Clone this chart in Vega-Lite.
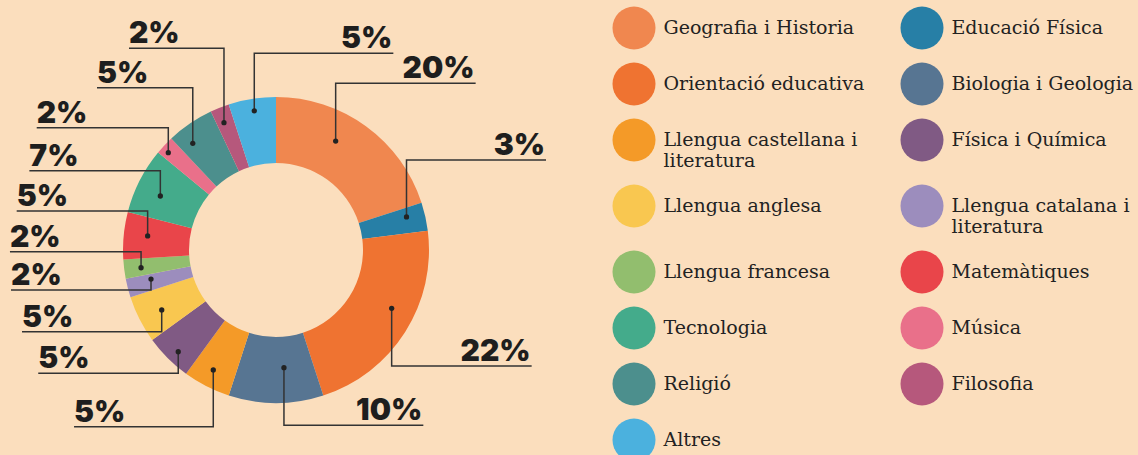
{
  "$schema": "https://vega.github.io/schema/vega-lite/v6.json",
  "width": 552,
  "height": 500,
  "padding": {"left": 0, "top": 0, "right": 586, "bottom": 0},
  "autosize": "none",
  "background": "#fbdebd",
  "config": {"view": {"stroke": null}},
  "datasets": {
    "subjects": [
      {"subject": "Geografia i Historia", "value": 20, "ord": 1},
      {"subject": "Educació Física", "value": 3, "ord": 2},
      {"subject": "Orientació educativa", "value": 22, "ord": 3},
      {"subject": "Biologia i Geologia", "value": 10, "ord": 4},
      {"subject": "Llengua castellana i literatura", "value": 5, "ord": 5},
      {"subject": "Física i Química", "value": 5, "ord": 6},
      {"subject": "Llengua anglesa", "value": 5, "ord": 7},
      {"subject": "Llengua catalana i literatura", "value": 2, "ord": 8},
      {"subject": "Llengua francesa", "value": 2, "ord": 9},
      {"subject": "Matemàtiques", "value": 5, "ord": 10},
      {"subject": "Tecnologia", "value": 7, "ord": 11},
      {"subject": "Música", "value": 2, "ord": 12},
      {"subject": "Religió", "value": 5, "ord": 13},
      {"subject": "Filosofia", "value": 2, "ord": 14},
      {"subject": "Altres", "value": 5, "ord": 15}
    ],
    "callouts": [
      {"subject": "Geografia i Historia", "v": 0, "x": 39.0, "y": 71.2},
      {"subject": "Geografia i Historia", "v": 1, "x": 39.0, "y": 109.0},
      {"subject": "Geografia i Historia", "v": 2, "x": 130.5, "y": 109.0, "side": "R", "label": "20%"},
      {"subject": "Educació Física", "v": 0, "x": 85.3, "y": 21.6},
      {"subject": "Educació Física", "v": 1, "x": 85.3, "y": 58.8},
      {"subject": "Educació Física", "v": 2, "x": 176.5, "y": 58.8, "side": "R", "label": "3%"},
      {"subject": "Orientació educativa", "v": 0, "x": 75.6, "y": -38.1},
      {"subject": "Orientació educativa", "v": 1, "x": 75.6, "y": -75.8},
      {"subject": "Orientació educativa", "v": 2, "x": 167.1, "y": -75.8, "side": "R", "label": "22%"},
      {"subject": "Biologia i Geologia", "v": 0, "x": 5.2, "y": -76.9},
      {"subject": "Biologia i Geologia", "v": 1, "x": 5.2, "y": -114.6},
      {"subject": "Biologia i Geologia", "v": 2, "x": 96.3, "y": -114.6, "side": "R", "label": "10%"},
      {"subject": "Llengua castellana i literatura", "v": 0, "x": -41.0, "y": -78.4},
      {"subject": "Llengua castellana i literatura", "v": 1, "x": -41.0, "y": -115.5},
      {"subject": "Llengua castellana i literatura", "v": 2, "x": -132.0, "y": -115.5, "side": "L", "label": "5%"},
      {"subject": "Física i Química", "v": 0, "x": -63.9, "y": -66.5},
      {"subject": "Física i Química", "v": 1, "x": -63.9, "y": -80.6},
      {"subject": "Física i Química", "v": 2, "x": -155.4, "y": -80.6, "side": "L", "label": "5%"},
      {"subject": "Llengua anglesa", "v": 0, "x": -74.7, "y": -39.2},
      {"subject": "Llengua anglesa", "v": 1, "x": -74.7, "y": -53.4},
      {"subject": "Llengua anglesa", "v": 2, "x": -166.0, "y": -53.4, "side": "L", "label": "5%"},
      {"subject": "Llengua catalana i literatura", "v": 0, "x": -81.7, "y": -19.0},
      {"subject": "Llengua catalana i literatura", "v": 1, "x": -81.7, "y": -26.1},
      {"subject": "Llengua catalana i literatura", "v": 2, "x": -173.2, "y": -26.1, "side": "L", "label": "2%"},
      {"subject": "Llengua francesa", "v": 0, "x": -88.2, "y": -11.6},
      {"subject": "Llengua francesa", "v": 1, "x": -88.2, "y": -1.1},
      {"subject": "Llengua francesa", "v": 2, "x": -173.9, "y": -1.1, "side": "L", "label": "2%"},
      {"subject": "Matemàtiques", "v": 0, "x": -83.9, "y": 9.2},
      {"subject": "Matemàtiques", "v": 1, "x": -83.9, "y": 25.5},
      {"subject": "Matemàtiques", "v": 2, "x": -169.5, "y": 25.5, "side": "L", "label": "5%"},
      {"subject": "Tecnologia", "v": 0, "x": -75.6, "y": 35.3},
      {"subject": "Tecnologia", "v": 1, "x": -75.6, "y": 51.8},
      {"subject": "Tecnologia", "v": 2, "x": -161.2, "y": 51.8, "side": "L", "label": "7%"},
      {"subject": "Música", "v": 0, "x": -70.4, "y": 63.6},
      {"subject": "Música", "v": 1, "x": -70.4, "y": 79.9},
      {"subject": "Música", "v": 2, "x": -156.4, "y": 79.9, "side": "L", "label": "2%"},
      {"subject": "Religió", "v": 0, "x": -54.4, "y": 69.7},
      {"subject": "Religió", "v": 1, "x": -54.4, "y": 106.1},
      {"subject": "Religió", "v": 2, "x": -117.0, "y": 106.1, "side": "L", "label": "5%"},
      {"subject": "Filosofia", "v": 0, "x": -34.0, "y": 83.2},
      {"subject": "Filosofia", "v": 1, "x": -34.0, "y": 131.8},
      {"subject": "Filosofia", "v": 2, "x": -96.1, "y": 131.8, "side": "L", "label": "2%"},
      {"subject": "Altres", "v": 0, "x": -14.2, "y": 91.0},
      {"subject": "Altres", "v": 1, "x": -14.2, "y": 128.6},
      {"subject": "Altres", "v": 2, "x": 76.7, "y": 128.6, "side": "R", "label": "5%"}
    ]
  },
  "layer": [
    {
      "data": {"name": "subjects"},
      "mark": {"type": "arc", "outerRadius": 153, "innerRadius": 87},
      "encoding": {
        "theta": {"field": "value", "type": "quantitative", "stack": true},
        "order": {"field": "ord", "type": "quantitative"},
        "color": {
          "field": "subject",
          "type": "nominal",
          "scale": {
            "domain": ["Geografia i Historia", "Educació Física", "Orientació educativa", "Biologia i Geologia", "Llengua castellana i literatura", "Física i Química", "Llengua anglesa", "Llengua catalana i literatura", "Llengua francesa", "Matemàtiques", "Tecnologia", "Música", "Religió", "Filosofia", "Altres"],
            "range": ["#f0874f", "#277fa6", "#ef7331", "#577592", "#f49a28", "#805a84", "#f9c750", "#9c8dbd", "#92be6e", "#e9454a", "#44ab8b", "#e9708a", "#4c8f8d", "#b6587c", "#4bb1de"]
          },
          "legend": {
            "orient": "none",
            "legendX": 612.5,
            "legendY": 6.5,
            "direction": "horizontal",
            "columns": 2,
            "title": null,
            "padding": 0,
            "symbolType": "circle",
            "symbolSize": 1849,
            "symbolStrokeWidth": 0,
            "symbolOpacity": 1,
            "labelFont": "DejaVu Serif",
            "labelFontSize": 19,
            "labelColor": "#222222",
            "labelOffset": 8,
            "labelLimit": 400,
            "labelBaseline": "middle",
            "rowPadding": 13,
            "columnPadding": 36,
            "labelExpr": "indexof(datum.label, 'i literatura') > 0 ? [replace(datum.label, ' literatura', ''), 'literatura'] : datum.label"
          }
        }
      }
    },
    {
      "data": {"name": "callouts"},
      "mark": {"type": "line", "stroke": "#333333", "strokeWidth": 1.5},
      "encoding": {
        "x": {"field": "x", "type": "quantitative", "scale": {"domain": [-180.4, 180.4], "nice": false, "zero": false}, "axis": null},
        "y": {"field": "y", "type": "quantitative", "scale": {"domain": [-163.4, 163.4], "nice": false, "zero": false}, "axis": null},
        "detail": {"field": "subject", "type": "nominal"},
        "order": {"field": "v", "type": "quantitative"}
      }
    },
    {
      "data": {"name": "callouts"},
      "transform": [{"filter": "datum.v === 0"}],
      "mark": {"type": "point", "filled": true, "color": "#222222", "size": 28, "opacity": 1},
      "encoding": {
        "x": {"field": "x", "type": "quantitative"},
        "y": {"field": "y", "type": "quantitative"}
      }
    },
    {
      "data": {"name": "callouts"},
      "transform": [{"filter": "datum.v === 2 && datum.side === 'R'"}],
      "mark": {"type": "text", "align": "right", "baseline": "alphabetic", "dy": -5, "dx": -1, "font": "Inter", "fontWeight": 900, "fontSize": 30, "color": "#1e1e1e"},
      "encoding": {
        "x": {"field": "x", "type": "quantitative"},
        "y": {"field": "y", "type": "quantitative"},
        "text": {"field": "label", "type": "nominal"}
      }
    },
    {
      "data": {"name": "callouts"},
      "transform": [{"filter": "datum.v === 2 && datum.side === 'L'"}],
      "mark": {"type": "text", "align": "left", "baseline": "alphabetic", "dy": -5, "dx": 0, "font": "Inter", "fontWeight": 900, "fontSize": 30, "color": "#1e1e1e"},
      "encoding": {
        "x": {"field": "x", "type": "quantitative"},
        "y": {"field": "y", "type": "quantitative"},
        "text": {"field": "label", "type": "nominal"}
      }
    }
  ]
}
